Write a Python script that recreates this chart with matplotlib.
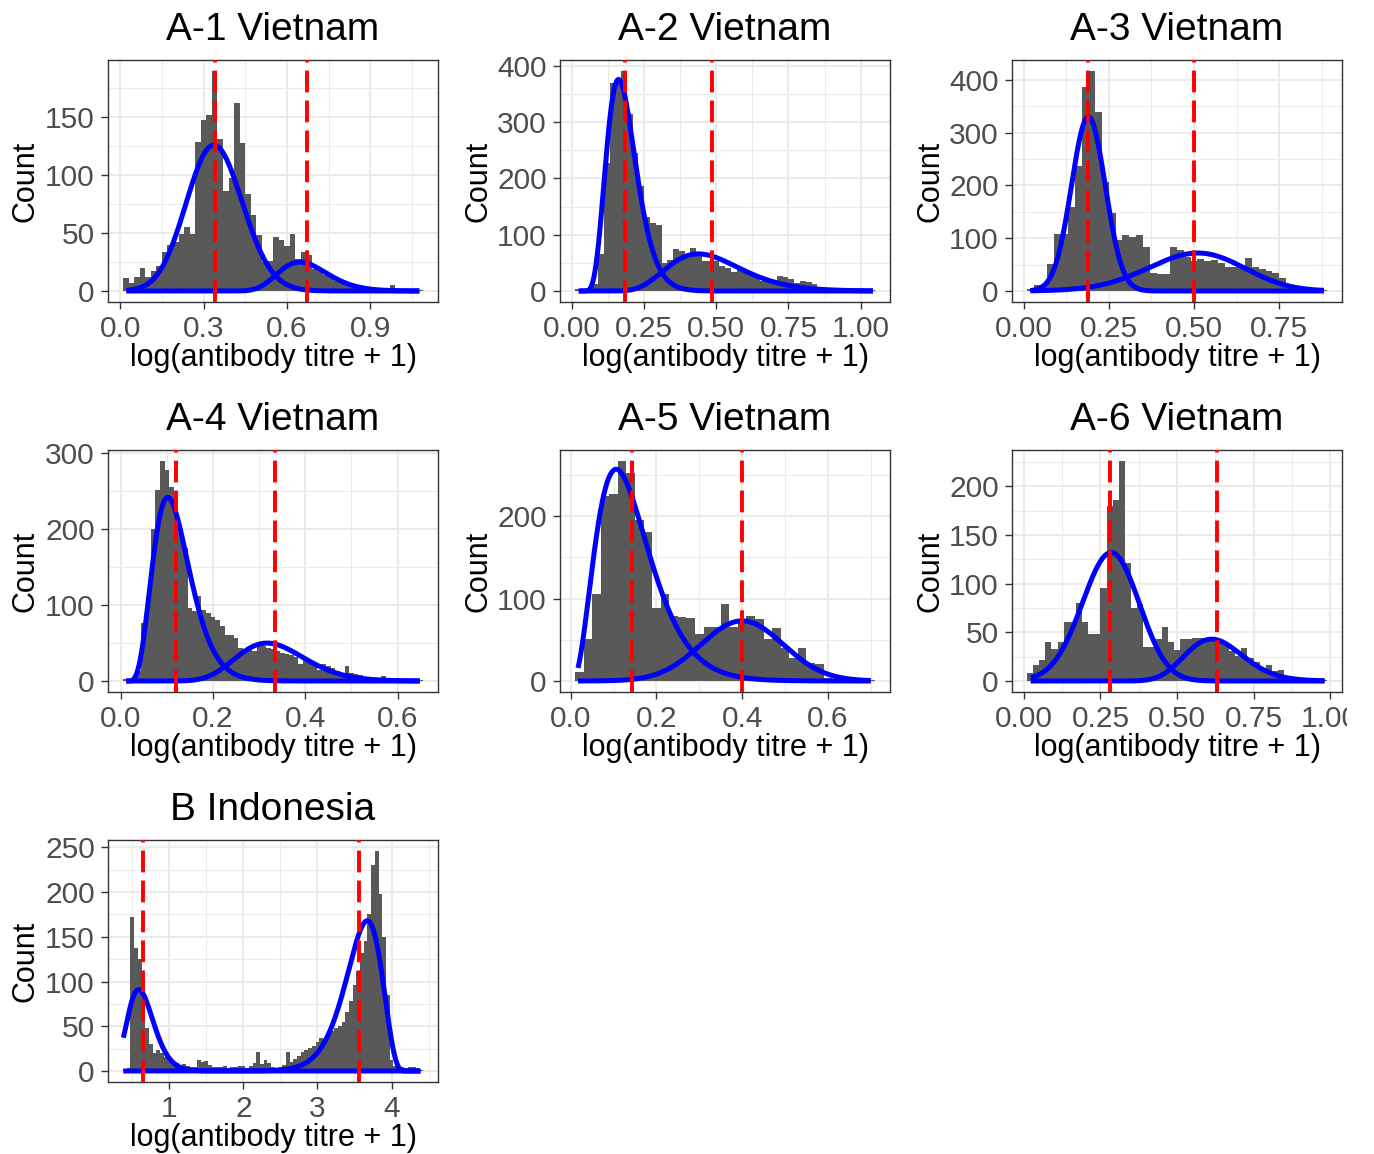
import numpy as np
import matplotlib
matplotlib.use("Agg")
import matplotlib.pyplot as plt
from matplotlib.ticker import MultipleLocator, FixedLocator
from matplotlib.patches import Rectangle

plt.rcParams["font.family"] = ["Liberation Sans", "DejaVu Sans"]

W, H = 1374, 1154

# ---- data ----
titles = ["A-1 Vietnam", "A-2 Vietnam", "A-3 Vietnam",
          "A-4 Vietnam", "A-5 Vietnam", "A-6 Vietnam", "B Indonesia"]

# histogram: left edge of first bin, bin width, counts
bin_start = [0.01, 0.01, 0.01, 0.005, 0.01, 0.01, 0.375]
bin_width = [0.02, 0.02, 0.02, 0.01, 0.02, 0.02, 0.05]

a1_counts = [11, 7, 12, 20, 12, 17, 22, 34, 40, 42, 49, 55, 49, 129, 148, 152,
             190, 131, 86, 98, 162, 128, 84, 66, 48, 25, 26, 47, 44, 39, 49, 28,
             34, 31, 19, 17, 14, 11, 9, 8, 6, 6, 4, 4, 3, 3, 2, 2, 5, 2, 1, 2, 1, 1]
a2_counts = [4, 2, 2, 12, 65, 228, 370, 370, 391, 315, 246, 187, 132, 120, 117,
             49, 55, 74, 71, 65, 77, 68, 53, 53, 53, 44, 41, 33, 37, 33, 30, 27,
             17, 21, 13, 27, 24, 22, 15, 18, 16, 12, 3, 2, 1, 1, 1, 0, 1, 0, 1, 1]
a3_counts = [4, 12, 14, 51, 108, 108, 160, 237, 386, 417, 339, 207, 147, 96, 107,
             103, 107, 84, 35, 32, 32, 84, 77, 65, 56, 60, 57, 58, 53, 45, 45, 44,
             62, 45, 42, 38, 34, 25, 12, 5, 2, 1, 1, 1]
a4_counts = [3, 2, 4, 13, 77, 110, 200, 252, 290, 278, 256, 243, 195, 175, 96, 92,
             112, 94, 90, 85, 80, 72, 61, 60, 57, 44, 40, 43, 40, 46, 46, 43, 42,
             39, 37, 35, 34, 31, 22, 28, 25, 24, 15, 22, 20, 17, 13, 11, 20, 10,
             9, 8, 5, 4, 3, 2, 6, 2, 1, 1, 1, 0, 1, 1, 1]
a5_counts = [11, 51, 105, 224, 227, 267, 252, 196, 181, 89, 105, 79, 78, 77, 57,
             66, 66, 93, 66, 72, 79, 75, 51, 64, 40, 28, 40, 22, 21, 4, 2, 1, 1, 0, 1]
a6_counts = [8, 16, 22, 40, 33, 40, 61, 61, 80, 61, 48, 48, 96, 180, 186, 226, 121,
             75, 79, 35, 35, 43, 55, 40, 32, 43, 43, 44, 44, 44, 44, 43, 38, 31,
             26, 34, 24, 20, 13, 16, 10, 11, 4, 3, 2, 1, 2, 1, 1]
b_counts = [2, 3, 172, 138, 125, 93, 48, 30, 20, 24, 20, 16, 13, 11, 9, 7, 8, 6,
            5, 5, 12, 10, 11, 7, 5, 5, 4, 6, 3, 5, 5, 6, 6, 3, 6, 9, 21, 8, 12, 9,
            5, 3, 4, 7, 21, 10, 13, 17, 21, 23, 26, 28, 32, 37, 34, 41, 45, 48, 50,
            55, 66, 78, 96, 112, 132, 145, 176, 230, 246, 198, 150, 85, 12, 6, 5,
            4, 3, 4, 5, 3, 1]
counts = [a1_counts, a2_counts, a3_counts, a4_counts, a5_counts, a6_counts, b_counts]

# fitted mixture components: mode, peak height, sd, skew scale (0 = normal)
comp_mode = [[0.337, 0.647], [0.161, 0.438], [0.190, 0.511], [0.102, 0.317],
             [0.106, 0.400], [0.285, 0.613], [0.587, 3.672]]
comp_peak = [[126, 25], [376, 66], [330, 72], [242, 50],
             [257, 73], [132, 43], [91, 168]]
comp_sd = [[0.101, 0.092], [0.0556, 0.136], [0.0495, 0.141], [0.044, 0.076],
           [0.0735, 0.096], [0.093, 0.096], [0.186, 0.27]]
comp_skew = [[0.005, 0.025], [0.021, 0.048], [0.0, -0.012], [0.018, 0.018],
             [0.0376, 0.0], [-0.004, 0.0185], [0.054, -0.112]]
# x-range of the raw data (where the curves are drawn)
data_lo = [0.022, 0.023, 0.020, 0.012, 0.017, 0.022, 0.38]
data_hi = [1.077, 1.043, 0.881, 0.648, 0.700, 0.982, 4.39]

# dashed lines (component means)
means = [[0.341, 0.672], [0.182, 0.486], [0.189, 0.499], [0.120, 0.335],
         [0.143, 0.400], [0.282, 0.632], [0.644, 3.56]]

x_ticks = [[0.0, 0.3, 0.6, 0.9], [0.0, 0.25, 0.5, 0.75, 1.0],
           [0.0, 0.25, 0.5, 0.75], [0.0, 0.2, 0.4, 0.6], [0.0, 0.2, 0.4, 0.6],
           [0.0, 0.25, 0.5, 0.75, 1.0], [1, 2, 3, 4]]
x_fmt = ["{:.1f}", "{:.2f}", "{:.2f}", "{:.1f}", "{:.1f}", "{:.2f}", "{:.0f}"]
y_step = [50, 100, 100, 100, 100, 50, 50]


def component(x, mode, peak, sd, skew):
    # gamma-shaped bump with given mode; skew sign sets the long tail side
    if skew == 0:
        return peak * np.exp(-0.5 * ((x - mode) / sd) ** 2)
    k = (sd / skew) ** 2
    u = (x - mode) / skew
    arg = 1 + u / (k - 1)
    out = np.zeros_like(x)
    ok = arg > 0
    out[ok] = peak * np.exp((k - 1) * np.log(arg[ok]) - u[ok])
    return out


fig = plt.figure(figsize=(W / 100, H / 100), dpi=100)
fig.patch.set_facecolor("white")

col_left = [108, 560, 1012]
row_top = [60, 450, 840]
pw, ph = 330, 242

for i, title in enumerate(titles):
    r, c = divmod(i, 3)
    ax = fig.add_axes([col_left[c] / W, 1 - (row_top[r] + ph) / H, pw / W, ph / H])

    n = np.array(counts[i])
    edges = bin_start[i] + bin_width[i] * np.arange(len(n))
    ax.bar(edges, n, width=bin_width[i], align="edge", color="#595959",
           linewidth=0, zorder=2)

    x = np.linspace(data_lo[i], data_hi[i], 400)
    for j in range(2):
        y = component(x, comp_mode[i][j], comp_peak[i][j], comp_sd[i][j], comp_skew[i][j])
        ax.plot(x, y, color="#0000FF", lw=3.6, zorder=3, solid_capstyle="butt")
    for m in means[i]:
        ax.axvline(m, color="#FF0000", lw=2.8, dashes=(5.6, 2.1), zorder=4)

    lo = bin_start[i]
    hi = bin_start[i] + bin_width[i] * len(n)
    ax.set_xlim(lo - 0.05 * (hi - lo), hi + 0.05 * (hi - lo))
    top = n.max()
    ax.set_ylim(-0.05 * top, 1.05 * top)

    ax.xaxis.set_major_locator(FixedLocator(x_ticks[i]))
    ax.set_xticklabels([x_fmt[i].format(t) for t in x_ticks[i]])
    step = x_ticks[i][1] - x_ticks[i][0]
    ax.xaxis.set_minor_locator(MultipleLocator(step / 2))
    ax.yaxis.set_major_locator(MultipleLocator(y_step[i]))
    ax.yaxis.set_minor_locator(MultipleLocator(y_step[i] / 2))

    ax.grid(which="major", color="#EBEBEB", lw=1.5, zorder=0)
    ax.grid(which="minor", color="#EBEBEB", lw=0.8, zorder=0)
    ax.set_axisbelow(True)
    for s in ax.spines.values():
        s.set_color("#333333")
        s.set_linewidth(1.0)
    ax.tick_params(which="major", length=5, width=1, color="#333333",
                   labelcolor="#4D4D4D", labelsize=21.5, pad=4.5)
    ax.tick_params(which="minor", length=0)

    ax.set_title(title, fontsize=28, pad=14.4)
    ax.set_xlabel("log(antibody titre + 1)", fontsize=22)
    ax.set_ylabel("Count", fontsize=22)
    ax.xaxis.set_label_coords(0.5, -41 / ph)
    ax.yaxis.set_label_coords(-67 / pw, 0.5)

# the right-hand column is cut off in the original
fig.patches.append(Rectangle((1347 / W, 0), 1 - 1347 / W, 1, transform=fig.transFigure,
                             facecolor="white", edgecolor="none", zorder=10))

fig.savefig("out.png", dpi=100)
